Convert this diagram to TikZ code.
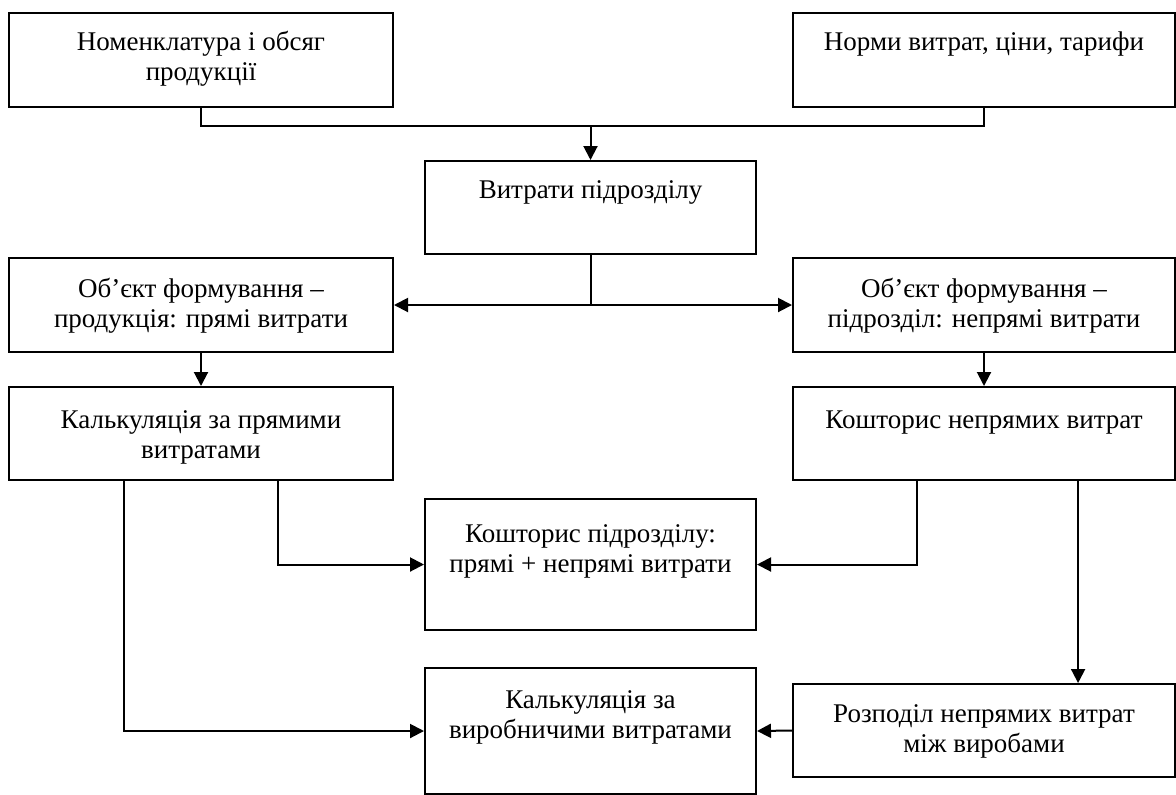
\documentclass[tikz,border=0pt]{standalone}
\usepackage{fontspec}
\setmainfont{Liberation Serif}
\usetikzlibrary{arrows.meta,calc}

% box text: width, height, top gap, text
\newcommand{\blokbox}[4]{\parbox[t][#2][t]{#1}{\fontsize{13.5pt}{15pt}\selectfont
  \centering\vspace*{#3}\strut#4\strut}}

\begin{document}
\begin{tikzpicture}[x=0.5pt,y=-0.5pt,
  blok/.style={draw,line width=1pt,anchor=north west,inner sep=0pt},
  lin/.style={line width=1pt},
  arr/.style={line width=1pt,-{Triangle[length=7pt,width=7pt]}}]
\useasboundingbox (0,0) rectangle (1176,794);
% blocks
\node[blok] (nom) at (8,12) {\blokbox{192pt}{47pt}{8pt}{Номенклатура і обсяг\\продукції}};
\node[blok] (norm) at (792,12) {\blokbox{191pt}{47pt}{8pt}{Норми витрат, ціни, тарифи}};
\node[blok] (vytr) at (424,160) {\blokbox{165.5pt}{46.5pt}{8pt}{Витрати підрозділу}};
\node[blok] (prod) at (8,257) {\blokbox{192pt}{47pt}{9pt}{Об’єкт формування –\\продукція: прямі витрати}};
\node[blok] (pidr) at (792,257) {\blokbox{191pt}{47pt}{9pt}{Об’єкт формування –\\підрозділ: непрямі витрати}};
\node[blok] (kpr) at (8,386) {\blokbox{192pt}{46.5pt}{10pt}{Калькуляція за прямими\\витратами}};
\node[blok] (knepr) at (792,386) {\blokbox{191pt}{46.5pt}{10pt}{Кошторис непрямих витрат}};
\node[blok] (kosh) at (424,498) {\blokbox{165.5pt}{65.5pt}{11pt}{Кошторис підрозділу:\\прямі + непрямі витрати}};
\node[blok] (kvyr) at (424,667) {\blokbox{165.5pt}{63pt}{9.5pt}{Калькуляція за\\виробничими витратами}};
\node[blok] (rozp) at (792,683) {\blokbox{191pt}{46.5pt}{8.5pt}{Розподіл непрямих витрат\\між виробами}};
% connectors
\draw[lin] (nom.south) -- ++(0,18) coordinate (top) -| (norm.south);
\draw[arr] (top -| vytr.north) -- (vytr.north);
\draw[arr] (vytr.south) |- (prod.east);
\draw[arr] (vytr.south) |- (pidr.west);
\draw[arr] (prod.south) -- (kpr.north);
\draw[arr] (pidr.south) -- (knepr.north);
\draw[arr] ($(kpr.south west)!0.7!(kpr.south east)$) |- (kosh.west);
\draw[arr] ($(kpr.south west)!0.3!(kpr.south east)$) |- (kvyr.west);
\draw[arr] ($(knepr.south west)!0.325!(knepr.south east)$) |- (kosh.east);
\draw[arr] ($(knepr.south west)!0.745!(knepr.south east)$) coordinate (kn) -- (kn |- rozp.north);
\draw[arr] (rozp.west) -- (kvyr.east);
\end{tikzpicture}
\end{document}
